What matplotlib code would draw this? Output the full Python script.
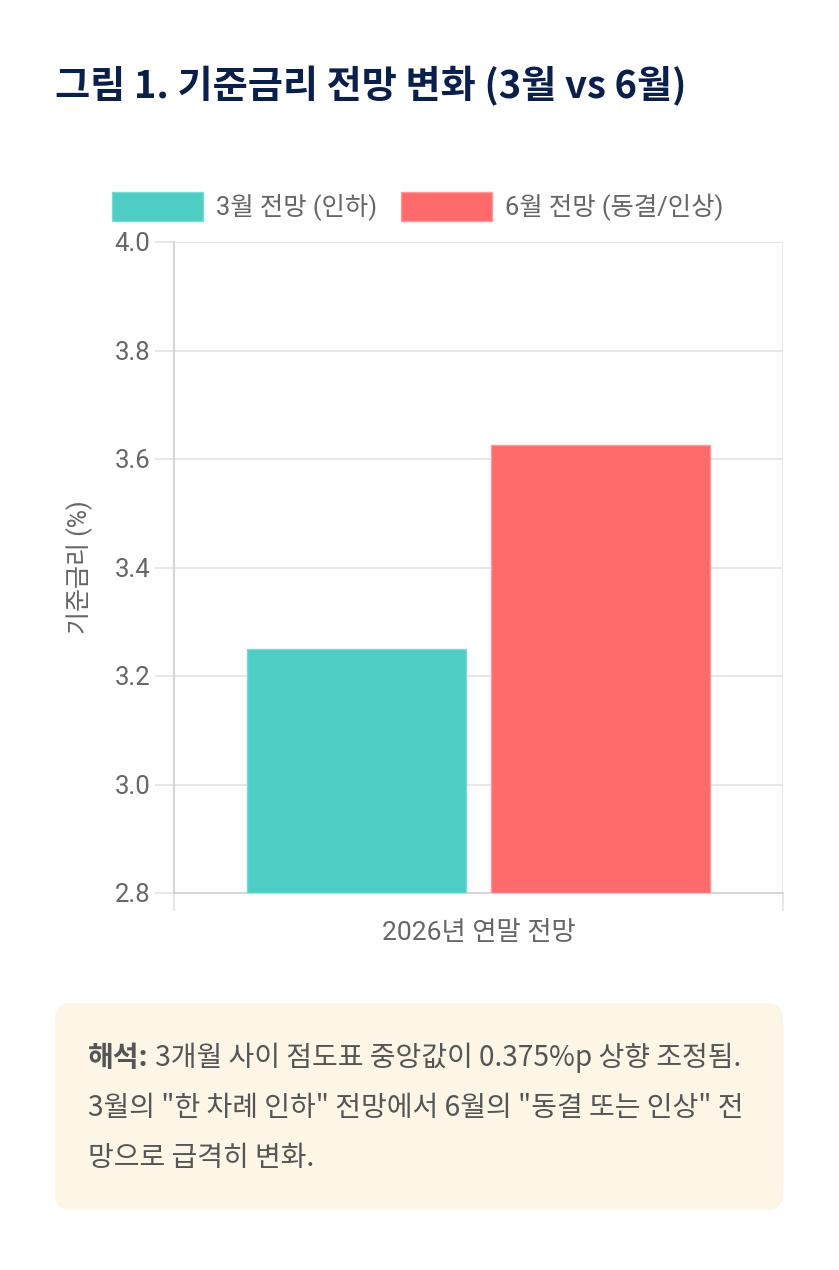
import matplotlib
matplotlib.use("Agg")
import matplotlib.pyplot as plt
from matplotlib.patches import FancyBboxPatch, Rectangle

# data
series_labels = ["3월 전망 (인하)", "6월 전망 (동결/인상)"]
series_values = [3.25, 3.625]
series_colors = ["#4ECDC4", "#FF6B6B"]
series_edges = ["#7ED9D2", "#FF9A9A"]
category = ["2026년 연말 전망"]
y_ticks = [2.8, 3.0, 3.2, 3.4, 3.6, 3.8, 4.0]

title = "그림 1. 기준금리 전망 변화 (3월 vs 6월)"
y_label = "기준금리 (%)"
note_bold = "해석:"
note_lines = [" 3개월 사이 점도표 중앙값이 0.375%p 상향 조정됨.",
              '3월의 "한 차례 인하" 전망에서 6월의 "동결 또는 인상" 전',
              "망으로 급격히 변화."]

W, H = 839, 1270
fams = ["Roboto", "Noto Sans CJK KR", "DejaVu Sans"]
cjk = ["Noto Sans CJK KR", "DejaVu Sans"]
plt.rcParams["font.family"] = fams

fig = plt.figure(figsize=(W / 100, H / 100), dpi=100)
fig.patch.set_facecolor("white")

# overlay in pixel coords for title, legend and note
bg = fig.add_axes([0, 0, 1, 1], zorder=-1)
bg.set_xlim(0, W)
bg.set_ylim(H, 0)
bg.axis("off")

bg.text(55, 86, title, fontsize=27.5, fontweight="bold", color="#0B1F4B",
        family=cjk, va="center", ha="left")

# legend
lx = [112, 401]
for i in range(2):
    bg.add_patch(Rectangle((lx[i], 192), 91, 29, facecolor=series_colors[i],
                           edgecolor=series_edges[i], lw=1))
    bg.text(lx[i] + 104, 207, series_labels[i], fontsize=18.3, color="#666666",
            va="center", ha="left")

# note box
bg.add_patch(FancyBboxPatch((55, 1003), 728, 207,
                            boxstyle="round,pad=0,rounding_size=16",
                            facecolor="#FDF6E7", edgecolor="none"))
t0 = bg.text(88, 1058, note_bold, fontsize=20.2, fontweight="bold",
             color="#555555", family=cjk, va="center", ha="left")
fig.canvas.draw()
bb = t0.get_window_extent()
x_after = 88 + bb.width
bg.text(x_after, 1058, note_lines[0], fontsize=20.2, color="#555555",
        family=cjk, va="center", ha="left")
for k, line in enumerate(note_lines[1:]):
    bg.text(88, 1108 + 50 * k, line, fontsize=20.2, color="#555555",
            family=cjk, va="center", ha="left")

# main chart
ax = fig.add_axes([174 / W, 1 - 893 / H, 609 / W, 651 / H])
ax.set_facecolor("none")
offs = [-0.2, 0.2]
for i in range(2):
    ax.bar(offs[i], series_values[i] - 2.8, bottom=2.8, width=0.36,
           color=series_colors[i], edgecolor=series_edges[i], lw=1, zorder=3)

ax.set_xlim(-0.5, 0.5)
ax.set_ylim(2.8, 4.0)
ax.set_yticks(y_ticks)
ax.set_yticklabels([f"{v:.1f}" for v in y_ticks])
ax.set_xticks([0])
ax.set_xticklabels(category)
ax.set_xticks([-0.5, 0.5], minor=True)

grid_c = "#E4E4E4"
ax.grid(axis="y", color=grid_c, lw=1.2, zorder=0)
ax.grid(axis="x", which="minor", color=grid_c, lw=1.2, zorder=0)
for s in ["top", "right"]:
    ax.spines[s].set_visible(False)
ax.spines["left"].set_color("#D0D0D0")
ax.spines["bottom"].set_color("#D0D0D0")
ax.spines["left"].set_linewidth(1.2)
ax.spines["bottom"].set_linewidth(1.2)

ax.tick_params(axis="y", length=14, color=grid_c, width=1.2, pad=3,
               labelsize=18.5, labelcolor="#666666")
ax.tick_params(axis="x", which="major", length=0, pad=20,
               labelsize=19, labelcolor="#666666")
ax.tick_params(axis="x", which="minor", length=13, color=grid_c, width=1.2)

ax.set_ylabel(y_label, fontsize=18, color="#666666")
ax.yaxis.set_label_coords(-81 / 609, 0.5)

fig.savefig("out.png", dpi=100, facecolor="white")
